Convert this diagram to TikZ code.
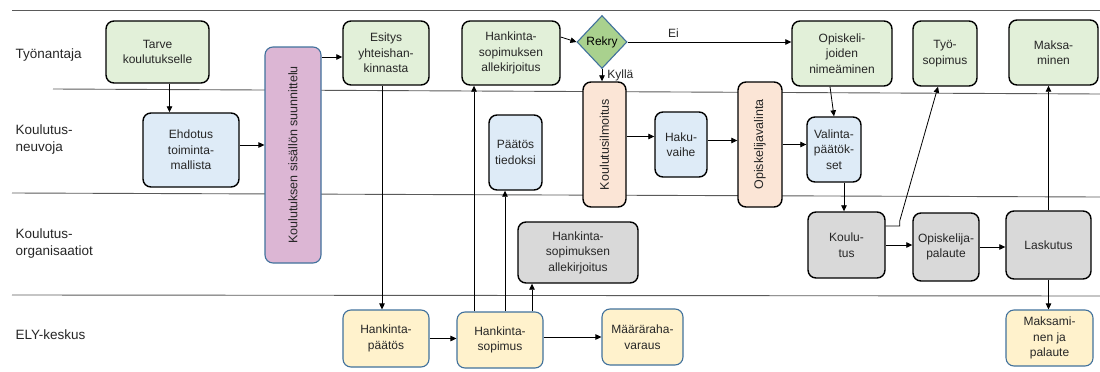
\documentclass[tikz,border=0pt]{standalone}
\usepackage{fontspec}
\setmainfont{Liberation Sans}
\usetikzlibrary{arrows.meta,shapes.geometric}

\definecolor{gfill}{HTML}{E2F0D9}
\definecolor{bfill}{HTML}{DEEBF7}
\definecolor{grfill}{HTML}{D9D9D9}
\definecolor{yfill}{HTML}{FFF2CC}
\definecolor{pfill}{HTML}{FBE5D6}
\definecolor{mfill}{HTML}{DCB6D4}
\definecolor{dfill}{HTML}{A9D18E}
\definecolor{bline}{HTML}{41719C}
\definecolor{lane}{HTML}{5A5A5A}

\tikzset{
  box/.style={draw=black, line width=1.4pt, rounded corners=8pt, inner sep=0pt,
    align=center, font=\fontsize{12}{15.5}\selectfont, text=black!85},
  gbox/.style={box, fill=gfill},
  bbox/.style={box, fill=bfill},
  grbox/.style={box, fill=grfill},
  pbox/.style={box, fill=pfill},
  ybox/.style={box, fill=yfill, draw=bline, line width=1.1pt},
  mbox/.style={box, fill=mfill, draw=bline, line width=1.1pt},
  decision/.style={diamond, draw=bline, line width=1.1pt, fill=dfill, inner sep=0pt,
    font=\fontsize{12}{14}\selectfont},
  vtext/.style={rotate=90, font=\fontsize{12.5}{15}\selectfont, text=black!85},
  lanetext/.style={anchor=west, align=left, font=\fontsize{13.5}{17}\selectfont, text=black!85},
  laneline/.style={draw=lane, line width=0.9pt},
  arr/.style={draw=black, line width=0.8pt, -{Triangle[length=6pt,width=5.5pt]}},
  lbl/.style={font=\fontsize{12}{14}\selectfont, text=black!85, inner sep=1pt}
}

\begin{document}
\begin{tikzpicture}[x=1pt, y=-1pt]
\useasboundingbox (0,0) rectangle (1100,372);

% swimlane separators
\draw[laneline] (12,10) -- (1100,10);
\draw[laneline] (53,89) -- (1100,94);
\draw[laneline] (12,193) -- (1100,197);
\draw[laneline] (12,295) -- (1100,296);

% lane titles
\node[lanetext] (laneA) at (12,55) {Työnantaja};
\node[lanetext] (laneB) at (12,140) {Koulutus-\\neuvoja};
\node[lanetext] (laneC) at (12,244) {Koulutus-\\organisaatiot};
\node[lanetext] (laneD) at (12,335) {ELY-keskus};

% employer lane
\node[gbox, minimum width=103, minimum height=62] (tarve) at (157.5,52) {Tarve\\koulutukselle};
\node[gbox, minimum width=86, minimum height=64] (esi) at (386,53) {Esitys\\yhteishan-\\kinnasta};
\node[gbox, minimum width=98, minimum height=64] (hsal) at (511,53) {Hankinta-\\sopimuksen\\allekirjoitus};
\node[decision, minimum width=50, minimum height=53] (rekry) at (602,42) {Rekry};
\node[gbox, minimum width=100, minimum height=65] (onim) at (842,53.5) {Opiskeli-\\joiden\\nimeäminen};
\node[gbox, minimum width=64, minimum height=65] (tyo) at (945,53.5) {Työ-\\sopimus};
\node[gbox, minimum width=89, minimum height=65] (maks) at (1053.5,52.5) {Maksa-\\minen};

% planning spans several lanes
\node[mbox, minimum width=56, minimum height=216] (plan) at (293,155) {};
\node[vtext] (plantext) at (plan.center) {Koulutuksen sisällön suunnittelu};

% training advisor lane
\node[bbox, minimum width=96, minimum height=74] (ehd) at (191,150) {Ehdotus\\toiminta-\\mallista};
\node[bbox, minimum width=53, minimum height=75] (ptied) at (515.5,152.5) {Päätös\\tiedoksi};
\node[pbox, minimum width=43, minimum height=125] (kil) at (604.5,144.5) {};
\node[vtext] (kiltext) at (kil.center) {Koulutusilmoitus};
\node[bbox, minimum width=52, minimum height=65] (haku) at (681,144.5) {Haku-\\vaihe};
\node[pbox, minimum width=44, minimum height=125] (ova) at (760,144.5) {};
\node[vtext] (ovatext) at (ova.center) {Opiskelijavalinta};
\node[bbox, minimum width=54, minimum height=65] (vpa) at (834,149.5) {Valinta-\\päätök-\\set};

% training organisations lane
\node[grbox, minimum width=120, minimum height=61] (hsal2) at (578,252.5) {Hankinta-\\sopimuksen\\allekirjoitus};
\node[grbox, minimum width=77, minimum height=66] (koul) at (846.5,245) {Koulu-\\tus};
\node[grbox, minimum width=66, minimum height=68] (opal) at (946,247) {Opiskelija-\\palaute};
\node[grbox, minimum width=85, minimum height=68] (lask) at (1048.5,245) {Laskutus};

% ELY centre lane
\node[ybox, minimum width=86, minimum height=57] (hpaa) at (386,338.5) {Hankinta-\\päätös};
\node[ybox, minimum width=86, minimum height=56] (hsop) at (500,340) {Hankinta-\\sopimus};
\node[ybox, minimum width=81, minimum height=56] (mrv) at (642.5,337) {Määräraha-\\varaus};
\node[ybox, minimum width=87, minimum height=56] (mpal) at (1049.5,338) {Maksami-\\nen ja\\palaute};

% connection points
\coordinate (t1) at ([xshift=12]tarve.south);
\coordinate (e1) at ([yshift=5]ehd.east);
\coordinate (p1) at ([yshift=-4]esi.west);
\coordinate (s0) at ([xshift=-4]esi.south);
\coordinate (h1) at ([yshift=16]hsal.east);
\coordinate (q1) at ([xshift=-26]hsop.north);
\coordinate (q2) at ([xshift=5]hsop.north);
\coordinate (q3) at ([xshift=32]hsop.north);
\coordinate (k1) at ([yshift=8]kil.east);
\coordinate (a1) at ([yshift=4]haku.east);
\coordinate (o1) at ([xshift=-12]onim.south);
\coordinate (v1) at ([xshift=10]vpa.south);
\coordinate (k2) at ([yshift=19]koul.east);
\coordinate (w1) at ([xshift=-7]tyo.south);

% connectors
\draw[arr] (t1) -- (t1 |- ehd.north);
\draw[arr] (e1) -- (e1 -| plan.west);
\draw[arr] (p1 -| plan.east) -- (p1);
\draw[arr] (s0) -- (s0 |- hpaa.north);
\draw[arr] (hpaa.east) -- (hpaa.east -| hsop.west);
\draw[arr] (mrv.west -| hsop.east) -- (mrv.west);
\draw[arr] (q1) -- (q1 |- hsal.south);
\draw[arr] (q2) -- (q2 |- ptied.south);
\draw[arr] (q3) -- (q3 |- hsal2.south);
\draw[arr] (h1) -- (rekry.west);
\draw[arr] (rekry.east) -- (rekry.east -| onim.west) node[lbl, pos=0.28, above=3pt] (ei) {Ei};
\draw[arr] (rekry.south) -- (rekry.south |- kil.north) node[lbl, pos=0.55, right=4pt] (kylla) {Kyllä};
\draw[arr] (k1) -- (k1 -| haku.west);
\draw[arr] (a1) -- (a1 -| ova.west);
\draw[arr] (ova.east) -- (ova.east -| vpa.west);
\draw[arr] (o1) -- (vpa.north);
\draw[arr] (v1) -- (v1 |- koul.north);
\draw[arr] (k2) -- ++(14,0) -- ++(0,-5) -- (w1);
\draw[arr] (koul.east) -- (koul.east -| opal.west);
\draw[arr] (opal.east) -- (opal.east -| lask.west);
\draw[arr] (lask.north) -- (lask.north |- maks.south);
\draw[arr] (lask.south) -- (lask.south |- mpal.north);
\end{tikzpicture}
\end{document}
